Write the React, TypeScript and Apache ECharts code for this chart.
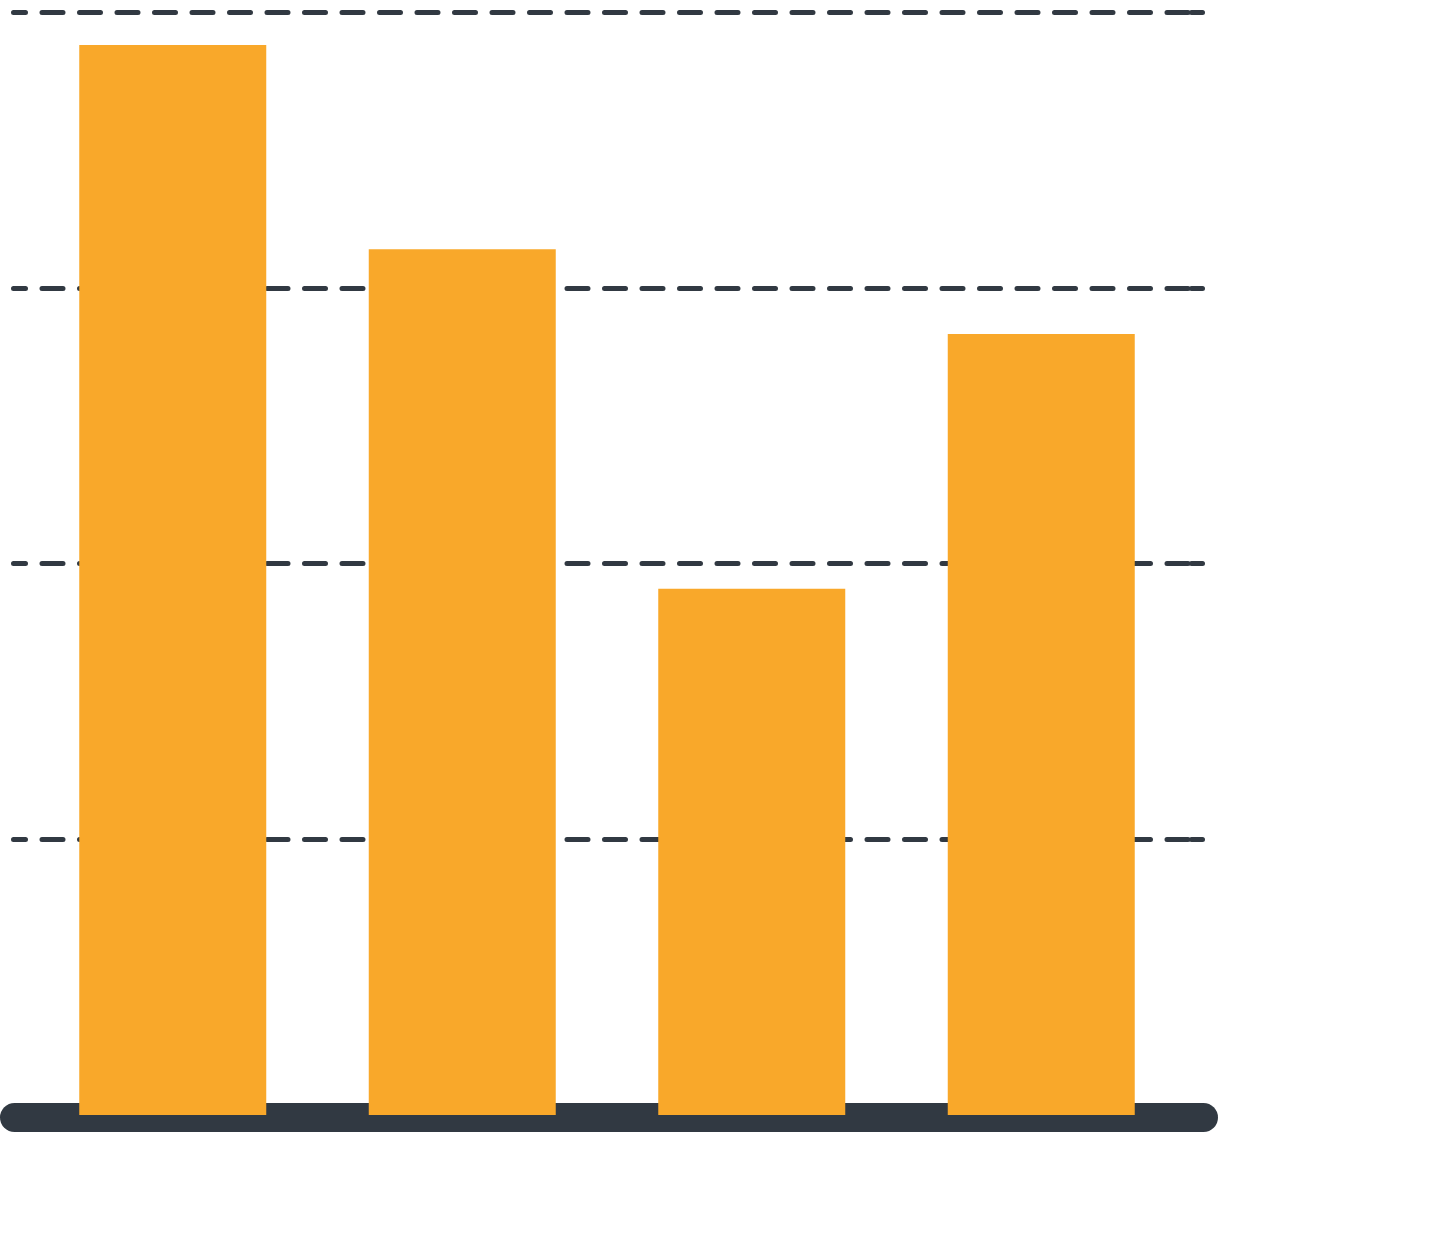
import React, { useEffect, useRef } from "react";
import * as echarts from "echarts";

const categories = ["A", "B", "C", "D"];
const values = [3.88, 3.14, 1.908, 2.832];
const yTicks = [0, 1, 2, 3, 4];

const DARK = "#313942";
const ORANGE = "#F9A82A";

export default function App() {
  const ref = useRef<HTMLDivElement>(null);
  useEffect(() => {
    if (!ref.current) return;
    const chart = echarts.init(ref.current, null, { renderer: "svg" });
    const yMin = yTicks[0];
    const yMax = yTicks[yTicks.length - 1];
    const interval = yTicks[1] - yTicks[0];
    const hiddenY = (gridIndex: number) => ({
      type: "value",
      gridIndex,
      min: yMin,
      max: yMax,
      interval,
      show: false,
      splitLine: { show: false },
    });
    chart.setOption({
      animation: false,
      backgroundColor: "#ffffff",
      grid: [
        { left: 13.5, right: 233.5, top: 12, bottom: 120 },
        { left: 28, right: 250, top: 12, bottom: 120 },
        { left: 14.5, right: 232.5, top: 9.5, bottom: 117.5 },
        { left: 1191.5, right: 233.5, top: 12, bottom: 120 },
      ],
      xAxis: [
        { type: "category", gridIndex: 0, data: categories, show: false },
        {
          type: "category",
          gridIndex: 1,
          data: categories,
          axisLine: { show: false },
          axisTick: { show: false },
          axisLabel: { show: false },
        },
        {
          type: "category",
          gridIndex: 2,
          data: categories,
          position: "bottom",
          axisLine: { show: true, lineStyle: { color: DARK, width: 29, cap: "round" } },
          axisTick: { show: false },
          axisLabel: { show: false },
        },
        { type: "category", gridIndex: 3, data: categories, show: false },
      ],
      yAxis: [
        {
          type: "value",
          gridIndex: 0,
          min: yMin,
          max: yMax,
          interval,
          axisLine: { show: false },
          axisTick: { show: false },
          axisLabel: { show: false },
          splitLine: {
            show: true,
            lineStyle: {
              color: DARK,
              width: 5,
              type: [21, 16.5],
              dashOffset: 9,
              cap: "round",
            },
          },
        },
        hiddenY(1),
        hiddenY(2),
        {
          type: "value",
          gridIndex: 3,
          min: yMin,
          max: yMax,
          interval,
          axisLine: { show: false },
          axisTick: { show: false },
          axisLabel: { show: false },
          splitLine: {
            show: true,
            lineStyle: { color: DARK, width: 5, type: "solid", cap: "round" },
          },
        },
      ],
      series: [
        {
          type: "bar",
          xAxisIndex: 1,
          yAxisIndex: 1,
          data: values,
          barWidth: 187,
          itemStyle: { color: ORANGE },
          z: 5,
        },
      ],
    });
    return () => chart.dispose();
  }, []);
  return <div ref={ref} style={{ width: 1436, height: 1235, position: "absolute", left: 0, top: 0 }} />;
}
